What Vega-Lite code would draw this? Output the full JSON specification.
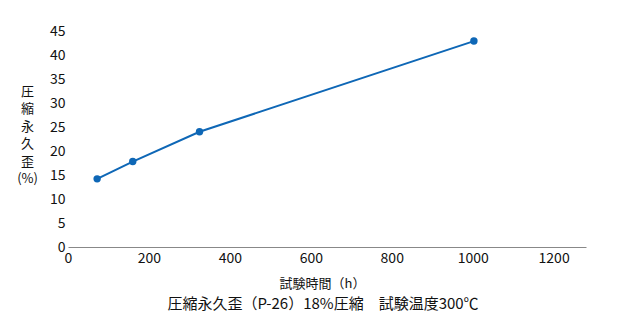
{
  "$schema": "https://vega.github.io/schema/vega-lite/v6.json",
  "autosize": "none",
  "width": 518,
  "height": 216,
  "padding": {"left": 68, "top": 31, "right": 54, "bottom": 73},
  "background": "white",
  "config": {
    "view": {"stroke": null},
    "font": "Noto Sans CJK JP"
  },
  "title": {
    "text": "圧縮永久歪（P-26）18%圧縮　試験温度300℃",
    "orient": "bottom",
    "anchor": "middle",
    "fontSize": 15,
    "fontWeight": "normal",
    "color": "#111",
    "font": "Noto Sans CJK JP",
    "offset": 7,
    "dx": -4
  },
  "data": {
    "values": [
      {"time": 72, "cs": 14.2},
      {"time": 160, "cs": 17.8},
      {"time": 325, "cs": 24.0},
      {"time": 1003, "cs": 42.9}
    ]
  },
  "encoding": {
    "x": {
      "field": "time",
      "type": "quantitative",
      "scale": {"domain": [0, 1280], "nice": false, "zero": true},
      "axis": {
        "values": [0, 200, 400, 600, 800, 1000, 1200],
        "format": "d",
        "title": "試験時間（h）",
        "titleFontSize": 13,
        "titleFontWeight": "normal",
        "titleColor": "#111",
        "titleX": 254,
        "titleY": 36,
        "titleBaseline": "middle",
        "labelFontSize": 14,
        "labelColor": "#111",
        "labelPadding": 4,
        "ticks": false,
        "grid": false,
        "domainColor": "#888",
        "domainWidth": 1,
        "labelFlush": false
      }
    },
    "y": {
      "field": "cs",
      "type": "quantitative",
      "scale": {"domain": [0, 45], "nice": false},
      "axis": {
        "values": [0, 5, 10, 15, 20, 25, 30, 35, 40, 45],
        "title": ["圧", "縮", "永", "久", "歪", "(%)"],
        "titleAngle": 0,
        "titleAlign": "center",
        "titleBaseline": "top",
        "titleX": -41,
        "titleY": 54,
        "titleFontSize": 13,
        "titleLineHeight": 17.5,
        "titleFontWeight": "normal",
        "titleColor": "#111",
        "labelFontSize": 14,
        "labelColor": "#111",
        "labelPadding": 3,
        "ticks": false,
        "grid": false,
        "domain": false
      }
    }
  },
  "layer": [
    {"mark": {"type": "line", "color": "#0e67b6", "strokeWidth": 2}},
    {"mark": {"type": "point", "filled": true, "color": "#0e67b6", "size": 55, "opacity": 1}}
  ]
}
